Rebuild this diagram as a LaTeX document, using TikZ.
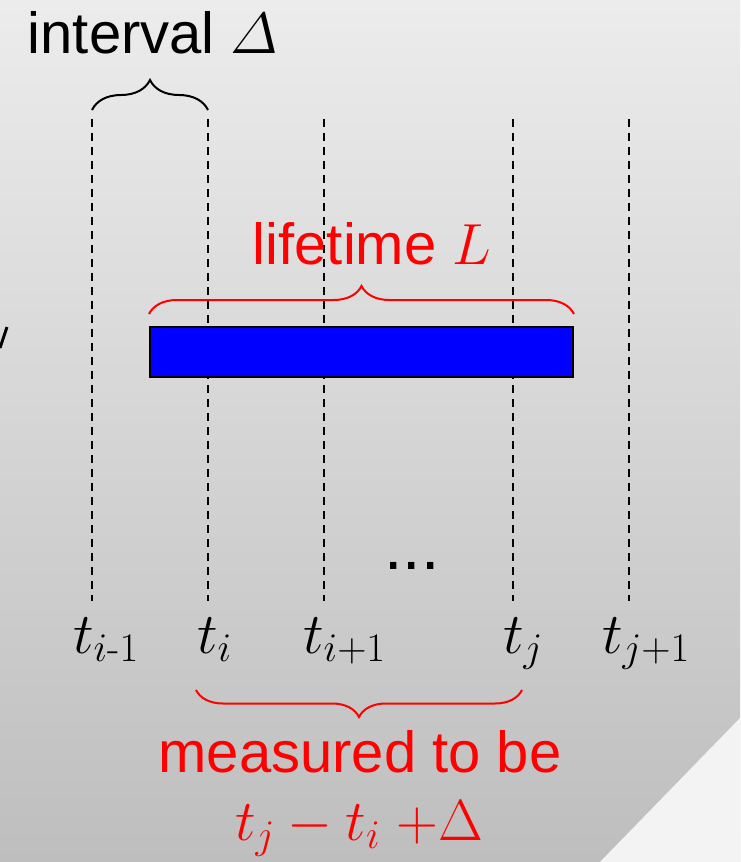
\documentclass[tikz,border=0pt]{standalone}
\usepackage{fix-cm}
\usepackage{amsmath}
\usepackage{fontspec}
\setsansfont{Liberation Sans}
\usetikzlibrary{positioning,decorations.pathreplacing}
\definecolor{BgTop}{RGB}{236,236,236}
\definecolor{BgBottom}{RGB}{190,190,190}
\definecolor{CurlGray}{RGB}{243,243,243}
\definecolor{MarkRed}{RGB}{255,0,0}
\definecolor{BarBlue}{RGB}{0,0,255}
\tikzset{
  gridline/.style={line width=2pt,dash pattern=on 8pt off 6pt},
  bigbrace/.style={decorate,decoration={brace,amplitude=#1},line width=2pt},
  bigtext/.style={font=\sffamily\fontsize{58}{70}\selectfont,inner sep=0pt},
  timelabel/.style={font=\fontsize{58}{70}\selectfont,inner sep=0pt,anchor=base west},
  barbox/.style={draw=black,fill=BarBlue,line width=2pt,inner sep=0pt,
    minimum width=423pt,minimum height=50pt}
}

\begin{document}
\begin{tikzpicture}[x=1pt,y=-1pt]
  \useasboundingbox (0,0) rectangle (740,862);
  \shade[top color=BgTop,bottom color=BgBottom] (0,0) rectangle (740,862);
  \fill[CurlGray] (600,862) -- (740,718) -- (740,862) -- cycle;
  \draw[line width=3pt] (0,348) -- (7,327);
  % time grid
  \foreach \x/\n in {92/a,208/b,324/c,513/d,629/e} {
    \coordinate (top\n) at (\x,119);
    \coordinate (bot\n) at (\x,601);
    \draw[gridline] (top\n) -- (bot\n);
  }
  \node[timelabel] (laba) at (73,653) {$t_{i\text{-}1}$};
  \node[timelabel] (labb) at (197,653) {$t_i$};
  \node[timelabel] (labc) at (303,653) {$t_{i+1}$};
  \node[timelabel] (labd) at (503,653) {$t_j$};
  \node[timelabel] (labe) at (602,653) {$t_{j+1}$};
  \node[bigtext,anchor=base,font=\sffamily\fontsize{66}{70}\selectfont] (dots) at (412,569) {...};
  % interval
  \node[bigtext,anchor=base] (interval) at (153,53) {interval $\varDelta$};
  \draw[bigbrace=30pt] ([yshift=9pt]topa) -- ([yshift=9pt]topb);
  % lifetime
  \node[barbox] (bar) at (361.5,352) {};
  \node[bigtext,anchor=base,text=MarkRed] (life) at (372,264) {lifetime $L$};
  \draw[bigbrace=28pt,MarkRed] ([yshift=12pt]bar.north west) -- ([yshift=12pt]bar.north east);
  % measured
  \coordinate (mleft) at (196,690);
  \coordinate (mright) at (522,690);
  \draw[bigbrace=27pt,MarkRed] (mright) -- (mleft);
  \node[bigtext,anchor=base,text=MarkRed] (measured) at (360,772) {measured to be};
  \node[timelabel,anchor=base,text=MarkRed] (formula) at (359,840) {$t_j - t_i\;{+}\Delta$};
\end{tikzpicture}
\end{document}
